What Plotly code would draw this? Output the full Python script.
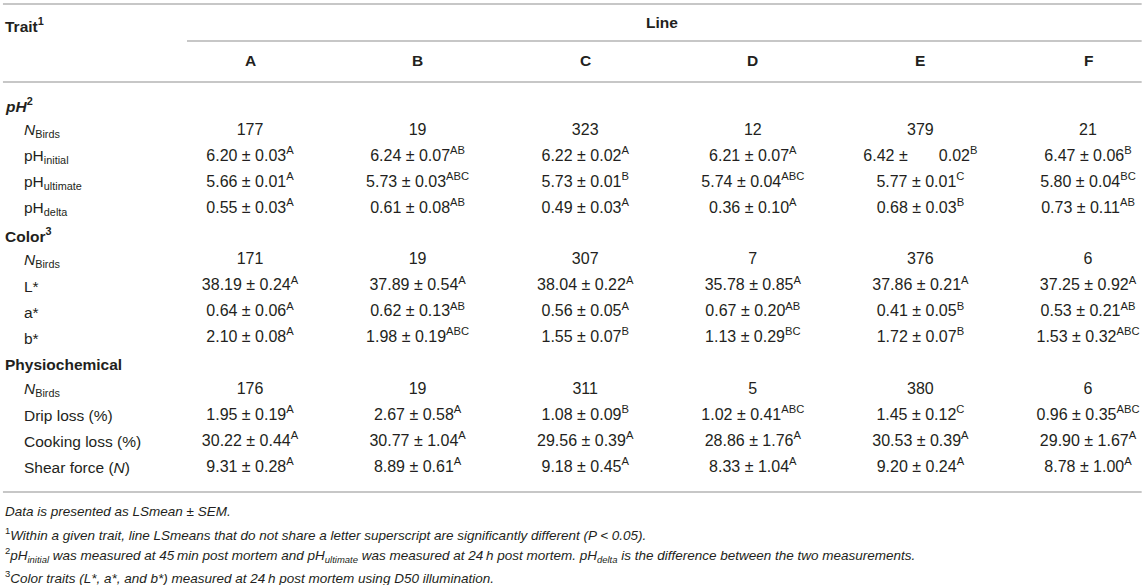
import plotly.graph_objects as go

# Line LSmeans +/- SEM with significance letters, per trait
lines = ["A", "B", "C", "D", "E", "F"]

n_ph = [177, 19, 323, 12, 379, 21]
ph_initial = [6.20, 6.24, 6.22, 6.21, 6.42, 6.47]
ph_initial_sem = [0.03, 0.07, 0.02, 0.07, 0.02, 0.06]
ph_initial_sig = ["A", "AB", "A", "A", "B", "B"]
ph_ultimate = [5.66, 5.73, 5.73, 5.74, 5.77, 5.80]
ph_ultimate_sem = [0.01, 0.03, 0.01, 0.04, 0.01, 0.04]
ph_ultimate_sig = ["A", "ABC", "B", "ABC", "C", "BC"]
ph_delta = [0.55, 0.61, 0.49, 0.36, 0.68, 0.73]
ph_delta_sem = [0.03, 0.08, 0.03, 0.10, 0.03, 0.11]
ph_delta_sig = ["A", "AB", "A", "A", "B", "AB"]

n_color = [171, 19, 307, 7, 376, 6]
l_star = [38.19, 37.89, 38.04, 35.78, 37.86, 37.25]
l_star_sem = [0.24, 0.54, 0.22, 0.85, 0.21, 0.92]
l_star_sig = ["A", "A", "A", "A", "A", "A"]
a_star = [0.64, 0.62, 0.56, 0.67, 0.41, 0.53]
a_star_sem = [0.06, 0.13, 0.05, 0.20, 0.05, 0.21]
a_star_sig = ["A", "AB", "A", "AB", "B", "AB"]
b_star = [2.10, 1.98, 1.55, 1.13, 1.72, 1.53]
b_star_sem = [0.08, 0.19, 0.07, 0.29, 0.07, 0.32]
b_star_sig = ["A", "ABC", "B", "BC", "B", "ABC"]

n_phys = [176, 19, 311, 5, 380, 6]
drip_loss = [1.95, 2.67, 1.08, 1.02, 1.45, 0.96]
drip_loss_sem = [0.19, 0.58, 0.09, 0.41, 0.12, 0.35]
drip_loss_sig = ["A", "A", "B", "ABC", "C", "ABC"]
cooking_loss = [30.22, 30.77, 29.56, 28.86, 30.53, 29.90]
cooking_loss_sem = [0.44, 1.04, 0.39, 1.76, 0.39, 1.67]
cooking_loss_sig = ["A", "A", "A", "A", "A", "A"]
shear_force = [9.31, 8.89, 9.18, 8.33, 9.20, 8.78]
shear_force_sem = [0.28, 0.61, 0.45, 1.04, 0.24, 1.00]
shear_force_sig = ["A", "A", "A", "A", "A", "A"]

n_label = "<i>N</i><sub>Birds</sub>"
rows = [
    ("<b><i>pH</i><sup>2</sup></b>", None),
    (n_label, n_ph),
    ("pH<sub>initial</sub>", (ph_initial, ph_initial_sem, ph_initial_sig)),
    ("pH<sub>ultimate</sub>", (ph_ultimate, ph_ultimate_sem, ph_ultimate_sig)),
    ("pH<sub>delta</sub>", (ph_delta, ph_delta_sem, ph_delta_sig)),
    ("<b>Color<sup>3</sup></b>", None),
    (n_label, n_color),
    ("L*", (l_star, l_star_sem, l_star_sig)),
    ("a*", (a_star, a_star_sem, a_star_sig)),
    ("b*", (b_star, b_star_sem, b_star_sig)),
    ("<b>Physiochemical</b>", None),
    (n_label, n_phys),
    ("Drip loss (%)", (drip_loss, drip_loss_sem, drip_loss_sig)),
    ("Cooking loss (%)", (cooking_loss, cooking_loss_sem, cooking_loss_sig)),
    ("Shear force (<i>N</i>)", (shear_force, shear_force_sem, shear_force_sig)),
]

footnotes = [
    "<i>Data is presented as LSmean ± SEM.</i>",
    "<sup>1</sup><i>Within a given trait, line LSmeans that do not share a letter superscript are significantly different (P < 0.05).</i>",
    "<sup>2</sup><i>pH<sub>initial</sub> was measured at 45\u2009min post mortem and pH<sub>ultimate</sub> was measured at "
    "24\u2009h post mortem. pH<sub>delta</sub> is the difference between the two measurements.</i>",
    "<sup>3</sup><i>Color traits (L*, a*, and b*) measured at 24\u2009h post mortem using D50 illumination.</i>",
]

FONT = "Liberation Sans, Arial, Helvetica, sans-serif"
TXT = "#231f20"
RULE = "#b4b4b4"

fig = go.Figure()

cell_x, cell_y, cell_t = [], [], []
lab_y, lab_t, sec_y, sec_t = [], [], [], []
for i, (label, vals) in enumerate(rows):
    if vals is None:
        sec_y.append(i)
        sec_t.append(label)
        continue
    lab_y.append(i)
    lab_t.append(label)
    for j in range(len(lines)):
        cell_x.append(j)
        cell_y.append(i)
        if isinstance(vals, tuple):
            mean, sem, sig = vals
            # odd wide gap in the source for E / pH initial
            gap = " ±" + "\u00a0" * 7 if (label == "pH<sub>initial</sub>" and lines[j] == "E") else " ± "
            cell_t.append(f"{mean[j]:.2f}{gap}{sem[j]:.2f}<sup>{sig[j]}</sup>")
        else:
            cell_t.append(str(vals[j]))

fig.add_trace(go.Scatter(x=cell_x, y=cell_y, text=cell_t, mode="text",
                         textposition="middle center",
                         textfont=dict(family=FONT, size=16, color=TXT),
                         hoverinfo="skip", showlegend=False))

for ys, ts, x0 in [(lab_y, lab_t, -1.36), (sec_y, sec_t, -1.474)]:
    for y, t in zip(ys, ts):
        fig.add_annotation(x=x0, y=y, text=t, xref="x", yref="y", showarrow=False,
                           xanchor="left", yanchor="middle",
                           font=dict(family=FONT, size=15.5, color=TXT))

# header
fig.add_annotation(x=-1.474, y=-3.09, text="<b>Trait<sup>1</sup></b>", showarrow=False,
                   xanchor="left", yanchor="middle", font=dict(family=FONT, size=15.5, color=TXT))
fig.add_annotation(x=2.46, y=-3.17, text="<b>Line</b>", showarrow=False,
                   xanchor="center", yanchor="middle", font=dict(family=FONT, size=15.5, color=TXT))
for j, name in enumerate(lines):
    fig.add_annotation(x=j, y=-1.7, text=f"<b>{name}</b>", showarrow=False,
                       xanchor="center", yanchor="middle", font=dict(family=FONT, size=15.5, color=TXT))

for k, t in enumerate(footnotes):
    fig.add_annotation(x=-1.474, y=15.71 + 0.84 * k, text=t, showarrow=False,
                       xanchor="left", yanchor="middle", font=dict(family=FONT, size=13.5, color=TXT))

# rules
for x0, y in [(-1.474, -3.9), (-0.376, -2.47), (-1.474, -0.89), (-1.474, 14.94)]:
    fig.add_shape(type="line", x0=x0, x1=5.32, y0=y, y1=y, xref="x", yref="y",
                  line=dict(color=RULE, width=1.6))

fig.update_xaxes(range=[-1.4916, 5.340], visible=False, fixedrange=True)
fig.update_yaxes(range=[18.53, -4.054], visible=False, fixedrange=True)
fig.update_layout(width=1145, height=585, margin=dict(l=0, r=0, t=0, b=0),
                  plot_bgcolor="white", paper_bgcolor="white")

fig.write_html("out.html", config={"displayModeBar": False},
               post_script="document.body.style.margin='0';document.body.style.overflow='hidden';")
